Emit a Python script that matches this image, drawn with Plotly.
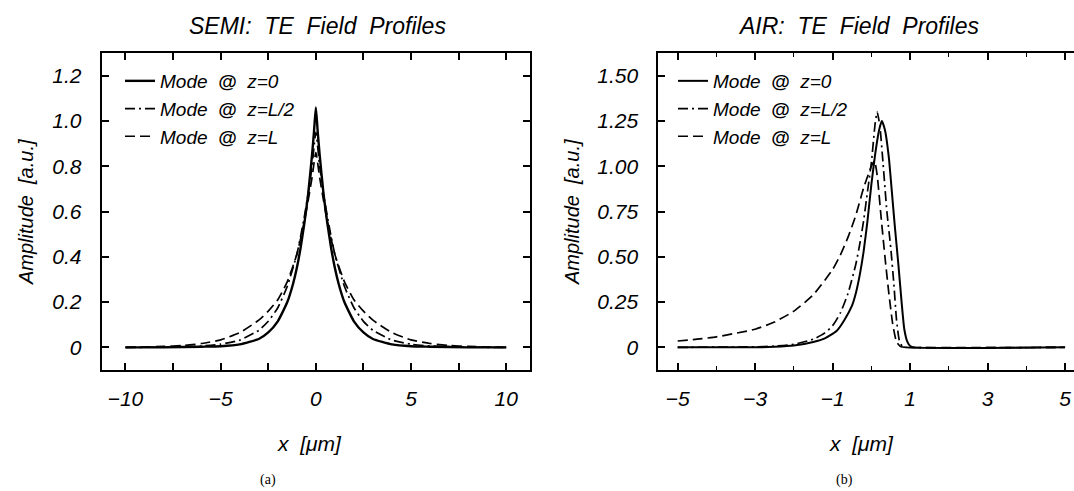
import plotly.graph_objects as go

# ---------------- data ----------------
# Panel (a) SEMI
semi_x0 = [-10, -8, -6, -5, -4, -3, -2.5, -2, -1.5, -1.2, -1.0, -0.8, -0.6, -0.4, -0.2, -0.1, 0,
           0.1, 0.2, 0.4, 0.6, 0.8, 1.0, 1.2, 1.5, 2, 2.5, 3, 4, 5, 6, 8, 10]
semi_y0 = [0, 0, 0.003, 0.005, 0.013, 0.037, 0.066, 0.115, 0.20, 0.28, 0.35, 0.44, 0.55, 0.68, 0.85, 0.95, 1.06,
           0.95, 0.85, 0.68, 0.55, 0.44, 0.35, 0.28, 0.20, 0.115, 0.066, 0.037, 0.013, 0.005, 0.003, 0, 0]

semi_xh = [-10, -8, -6, -5, -4, -3, -2.5, -2, -1.5, -1.0, -0.8, -0.6, -0.4, -0.2, 0,
           0.2, 0.4, 0.6, 0.8, 1.0, 1.5, 2, 2.5, 3, 4, 5, 6, 8, 10]
semi_yh = [0, 0.001, 0.006, 0.014, 0.032, 0.075, 0.115, 0.175, 0.27, 0.41, 0.49, 0.58, 0.68, 0.80, 0.95,
           0.80, 0.68, 0.58, 0.49, 0.41, 0.27, 0.175, 0.115, 0.075, 0.032, 0.014, 0.006, 0.001, 0]

semi_xL = [-10, -8, -7, -6, -5, -4, -3, -2.5, -2, -1.5, -1.0, -0.8, -0.6, -0.4, -0.2, 0,
           0.2, 0.4, 0.6, 0.8, 1.0, 1.5, 2, 2.5, 3, 4, 5, 6, 7, 8, 10]
semi_yL = [0, 0.004, 0.008, 0.017, 0.033, 0.065, 0.12, 0.16, 0.21, 0.29, 0.41, 0.48, 0.56, 0.65, 0.75, 0.86,
           0.75, 0.65, 0.56, 0.48, 0.41, 0.29, 0.21, 0.16, 0.12, 0.065, 0.033, 0.017, 0.008, 0.004, 0]

# Panel (b) AIR
air_x0 = [-5, -3, -2.5, -2, -1.5, -1.2, -0.9, -0.7, -0.5, -0.4, -0.3, -0.2, -0.1, 0, 0.1, 0.2, 0.27,
          0.35, 0.45, 0.52, 0.6, 0.7, 0.78, 0.85, 0.93, 1.0, 1.1, 5]
air_y0 = [0, 0, 0.003, 0.01, 0.03, 0.05, 0.09, 0.15, 0.23, 0.30, 0.40, 0.53, 0.70, 0.90, 1.07, 1.20, 1.25,
          1.20, 1.05, 0.88, 0.68, 0.45, 0.25, 0.10, 0.03, 0.008, 0, 0]

air_xh = [-5, -3, -2.5, -2, -1.5, -1.2, -1.0, -0.8, -0.6, -0.4, -0.3, -0.2, -0.1, 0, 0.1, 0.15,
          0.22, 0.3, 0.4, 0.5, 0.58, 0.65, 0.72, 0.8, 0.9, 5]
air_yh = [0, 0.003, 0.007, 0.017, 0.045, 0.08, 0.12, 0.19, 0.30, 0.46, 0.57, 0.70, 0.86, 1.02, 1.24, 1.30,
          1.22, 1.02, 0.75, 0.55, 0.35, 0.15, 0.04, 0.005, 0, 0]

air_xL = [-5, -4.5, -4, -3.5, -3, -2.5, -2, -1.5, -1, -0.8, -0.6, -0.4, -0.2, 0, 0.08,
          0.15, 0.25, 0.35, 0.45, 0.55, 0.65, 0.75, 0.9, 5]
air_yL = [0.035, 0.045, 0.058, 0.078, 0.10, 0.14, 0.20, 0.29, 0.43, 0.51, 0.61, 0.73, 0.88, 1.00, 1.03,
          0.95, 0.72, 0.50, 0.30, 0.13, 0.03, 0.005, 0, 0]

legend_names = ["Mode  <b>@</b>  z=0", "Mode  <b>@</b>  z=L/2", "Mode  <b>@</b>  z=L"]
semi_xticks = [-10, -7.5, -5, -2.5, 0, 2.5, 5, 7.5, 10]
semi_xticktext = ["\u221210", "", "\u22125", "", "0", "", "5", "", "10"]
semi_yticks = [0, 0.2, 0.4, 0.6, 0.8, 1.0, 1.2]
semi_yticktext = ["0", "0.2", "0.4", "0.6", "0.8", "1.0", "1.2"]
air_xticks = [-5, -3, -1, 1, 3, 5]
air_xticktext = ["\u22125", "\u22123", "\u22121", "1", "3", "5"]
air_yticks = [0, 0.25, 0.5, 0.75, 1.0, 1.25, 1.5]
air_yticktext = ["0", "0.25", "0.50", "0.75", "1.00", "1.25", "1.50"]

# ---------------- figure ----------------
FONT = "Liberation Sans"
W, H = 1074, 491
fig = go.Figure()

styles = [dict(dash="solid"), dict(dash="10px,4px,2px,4px"), dict(dash="10px,5px")]

for i, (xs, ys) in enumerate([(semi_x0, semi_y0), (semi_xh, semi_yh), (semi_xL, semi_yL)]):
    fig.add_trace(go.Scatter(x=xs, y=ys, mode="lines", name=legend_names[i],
                             line=dict(color="black", width=2.4 if i == 0 else 1.7,
                                       shape="spline", smoothing=0.5, **styles[i]),
                             xaxis="x", yaxis="y", legend="legend"))
for i, (xs, ys) in enumerate([(air_x0, air_y0), (air_xh, air_yh), (air_xL, air_yL)]):
    fig.add_trace(go.Scatter(x=xs, y=ys, mode="lines", name=legend_names[i],
                             line=dict(color="black", width=2.0 if i == 0 else 1.7,
                                       shape="spline", smoothing=0.5, **styles[i]),
                             xaxis="x2", yaxis="y2", legend="legend2"))

ydom = [1 - 370 / H, 1 - 53 / H]
tickfont = dict(family=FONT, size=21, color="black", style="italic")
axcommon = dict(showline=True, linecolor="black", linewidth=2, ticks="inside", ticklen=7,
                tickwidth=1.5, tickcolor="black", showgrid=False, zeroline=False,
                tickfont=tickfont)

fig.update_layout(
    width=W, height=H, margin=dict(l=0, r=0, t=0, b=0),
    paper_bgcolor="white", plot_bgcolor="white",
    xaxis=dict(domain=[101.7 / W, 530 / W], range=[-11.25, 11.25], anchor="y", mirror="ticks",
               tickmode="array", tickvals=semi_xticks, ticktext=semi_xticktext,
               ticklabelstandoff=9, **axcommon),
    yaxis=dict(domain=ydom, range=[-0.1, 1.3], anchor="x", mirror="ticks",
               tickmode="array", tickvals=semi_yticks, ticktext=semi_yticktext,
               ticklabelstandoff=14, **axcommon),
    xaxis2=dict(domain=[658.3 / W, 1.0], range=[-5.5, 5.23], anchor="y2", mirror="ticks",
                tickmode="array", tickvals=air_xticks, ticktext=air_xticktext,
                ticklabelstandoff=9,
                minor=dict(tickvals=[-4, -2, 0, 2, 4], ticklen=4, tickwidth=1.2, ticks="inside",
                           tickcolor="black"), **axcommon),
    yaxis2=dict(domain=ydom, range=[-0.125, 1.625], anchor="x2", mirror=False,
                tickmode="array", tickvals=air_yticks, ticktext=air_yticktext,
                ticklabelstandoff=14, **axcommon),
    legend=dict(x=120 / W, y=1 - 62 / H, xanchor="left", yanchor="top",
                bgcolor="rgba(0,0,0,0)", tracegroupgap=0,
                font=dict(family=FONT, size=19, color="black", style="italic")),
    legend2=dict(x=673 / W, y=1 - 62 / H, xanchor="left", yanchor="top",
                 bgcolor="rgba(0,0,0,0)", tracegroupgap=0,
                 font=dict(family=FONT, size=19, color="black", style="italic")),
)

txtfont = dict(family=FONT, size=21, color="black", style="italic")
ann = [
    dict(text="SEMI:  TE  Field  Profiles", x=317 / W, y=1 - 26 / H, size=23),
    dict(text="AIR:  TE  Field  Profiles", x=859 / W, y=1 - 26 / H, size=23),
    dict(text="x  [\u03bcm]", x=310 / W, y=1 - 443 / H, size=21),
    dict(text="x  [\u03bcm]", x=861 / W, y=1 - 443 / H, size=21),
]
for a in ann:
    fig.add_annotation(xref="paper", yref="paper", showarrow=False, xanchor="center",
                       yanchor="middle", text=a["text"], x=a["x"], y=a["y"],
                       font=dict(family=FONT, size=a["size"], color="black", style="italic"))
for xx in [26 / W, 572 / W]:
    fig.add_annotation(xref="paper", yref="paper", showarrow=False, text="Amplitude  [a.u.]",
                       x=xx, y=1 - 212 / H, textangle=-90, xanchor="center", yanchor="middle",
                       font=dict(family=FONT, size=20, color="black", style="italic"))
for t, xx in [("(a)", 268 / W), ("(b)", 844 / W)]:
    fig.add_annotation(xref="paper", yref="paper", showarrow=False, text=t, x=xx, y=1 - 480 / H,
                       xanchor="center", yanchor="middle",
                       font=dict(family="Liberation Serif", size=14, color="black"))

fig.write_html("out.html", config={"displayModeBar": False},
               post_script="document.body.style.margin='0';")
